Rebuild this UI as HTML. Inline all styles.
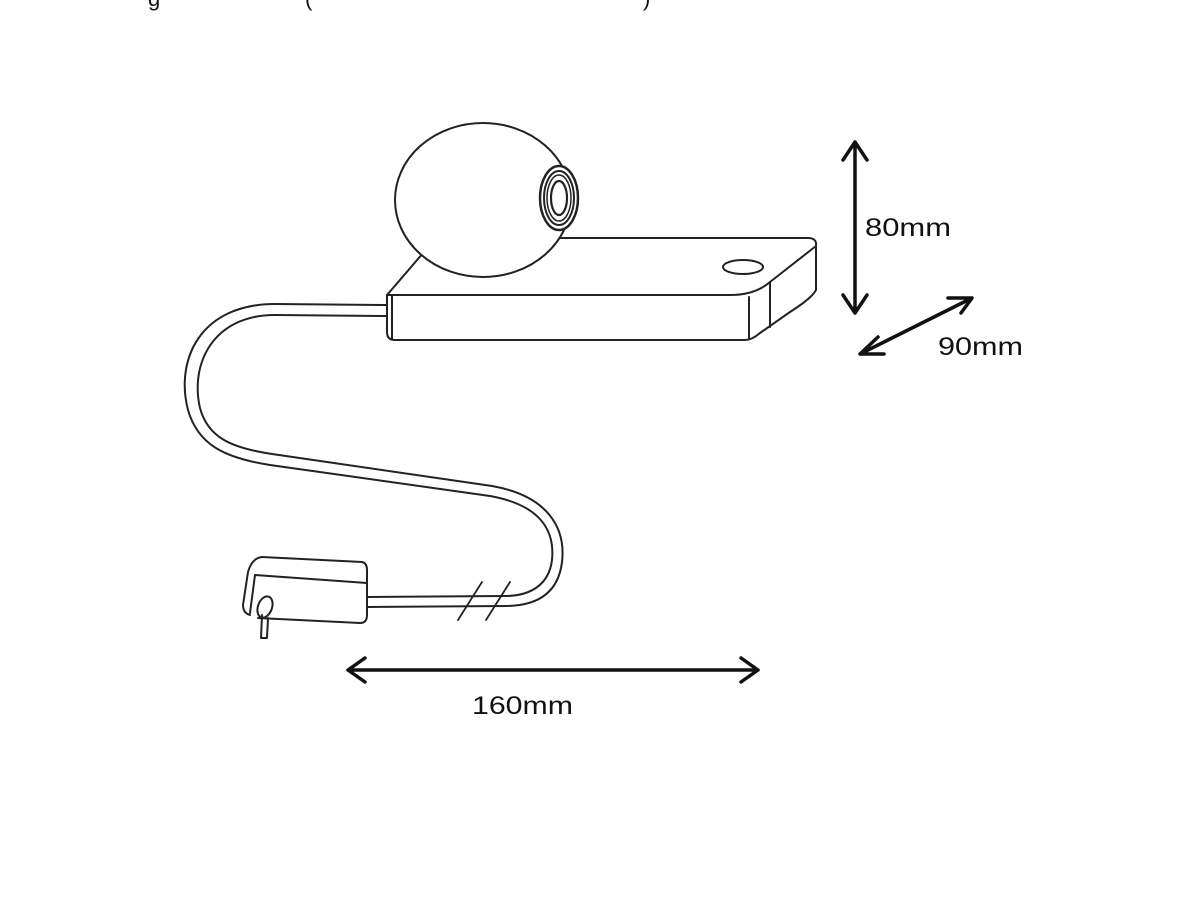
<!DOCTYPE html>
<html><head><style>
html,body{margin:0;padding:0;background:#fff;}
svg{display:block;}
text{font-family:"Liberation Sans",sans-serif;fill:#111;}
</style></head><body>
<svg width="1200" height="900" viewBox="0 0 1200 900" xmlns="http://www.w3.org/2000/svg">
<rect width="1200" height="900" fill="#fff"/>
<text x="148" y="6" font-size="22">g</text>
<text x="305" y="6" font-size="22">(</text>
<text x="643" y="6" font-size="22">)</text>
<g fill="none" stroke="#222" stroke-width="2" stroke-linejoin="round" stroke-linecap="round">
<!-- cord -->
<path d="M387 305 L275 304 C200 304 175 360 188 410 C198 445 225 458 270 465 L490 496 C540 505 555 530 552 560 C549 585 530 596 505 596 L368 597"/>
<path d="M387 316 L275 315 C212 315 190 365 200 408 C208 438 232 448 272 454 L492 486 C548 496 566 528 562 562 C558 595 535 606 505 606 L368 607"/>
<path d="M458 620 L482 582 M486 620 L510 582" stroke-width="1.8"/>
<!-- plug -->
<path d="M262 557 L362 562 Q367 563 367 570 L367 615 Q367 623 360 623 L258 618"/>
<path d="M255 575 L367 583"/>
<path d="M262 557 Q252 558 248 572 L243 605 Q243 613 250 615"/>
<path d="M255 575 L250 613"/>
<ellipse cx="265" cy="607" rx="7" ry="11" transform="rotate(20 265 607)"/>
<path d="M262 615 L261 638 L267 638 L268 618"/>
<!-- base -->
<path d="M387 295 L430 245"/>
<path d="M540 238 L808 238 Q817 238 816 246 L816 290 Q812 298 790 312 L760 333 Q752 340 745 340 L395 340 Q387 340 387 332 L387 295"/>
<path d="M392 296 L392 339"/>
<path d="M387 295 L730 295 Q755 295 770 282 L816 246"/>
<path d="M749 297 L749 338"/>
<path d="M770 282 L770 327"/>
<ellipse cx="743" cy="267" rx="20" ry="7"/>
<!-- sphere -->
<ellipse cx="483" cy="200" rx="88" ry="77" fill="#fff"/>
<ellipse cx="559" cy="198" rx="19" ry="32" fill="#fff" stroke-width="2.5"/>
<ellipse cx="559" cy="198" rx="15" ry="27"/>
<ellipse cx="559" cy="198" rx="12" ry="23" stroke-width="1.5"/>
<ellipse cx="559" cy="198" rx="8" ry="17" stroke-width="2.2"/>
</g>
<!-- dimension arrows -->
<g fill="none" stroke="#111" stroke-width="3.5" stroke-linecap="round" stroke-linejoin="round">
<path d="M855 142 L855 313 M843 160 L855 142 L867 160 M843 295 L855 313 L867 295"/>
<path d="M860 354 L972 298 M878 337 L860 354 L884 354 M948 298 L972 298 M961 313 L972 298"/>
<path d="M348 670 L758 670 M365 658 L348 670 L365 682 M741 658 L758 670 L741 682"/>
</g>
<text x="865" y="236" font-size="25" textLength="86" lengthAdjust="spacingAndGlyphs">80mm</text>
<text x="938" y="355" font-size="25" textLength="85" lengthAdjust="spacingAndGlyphs">90mm</text>
<text x="472" y="714" font-size="25" textLength="101" lengthAdjust="spacingAndGlyphs">160mm</text>
</svg>
</body></html>
